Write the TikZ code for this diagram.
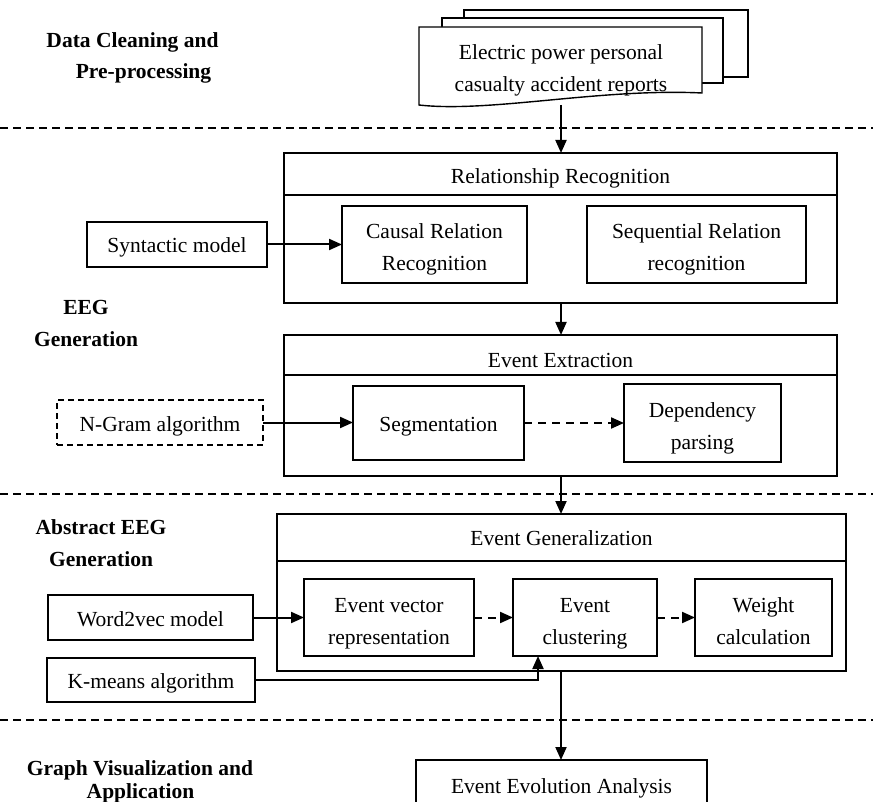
\documentclass[tikz,border=0pt]{standalone}
\usepackage{fontspec}
\setmainfont{Liberation Serif}
\usetikzlibrary{arrows.meta}
\begin{document}
\begin{tikzpicture}[x=1pt,y=-1pt,
  every node/.style={font=\fontsize{21.5}{32}\selectfont, inner sep=0pt, outer sep=0pt},
  one/.style={text height=19.5pt, text depth=2.5pt},
  two/.style={align=center, text height=55pt, text depth=2pt},
  box/.style={draw, line width=1.4pt, fill=white},
  dbox/.style={box, dash pattern=on 6pt off 4pt},
  sec/.style={font=\fontsize{21.5}{32}\selectfont\bfseries},
  flow/.style={line width=2pt, -{Triangle[length=13pt,width=11pt]}},
  dflow/.style={flow, dash pattern=on 8pt off 6pt},
  sep/.style={line width=1.3pt, dash pattern=on 8pt off 5pt},
  rule/.style={line width=1.4pt},
]
\clip (0,0) rectangle (873,802);
\fill[white] (0,0) rectangle (873,802);

% stage separators
\draw[sep] (0,128) -- (873,128);
\draw[sep] (0,494) -- (873,494);
\draw[sep] (0,720) -- (873,720);

% stage labels
\node[sec] (l1a) at (132.5,42) {Data Cleaning and};
\node[sec] (l1b) at (143.5,73) {Pre-processing};
\node[sec, align=center] (l2) at (86,323.5) {EEG\\Generation};
\node[sec, align=center] (l3) at (101,543) {Abstract EEG\\Generation};
\node[sec] (l4a) at (140,770) {Graph Visualization and};
\node[sec] (l4b) at (140.5,793) {Application};

% stacked report documents
\draw[box] (464,10) rectangle (748,77);
\draw[box] (442,18) rectangle (723,83);
\draw[box] (419,27) -- (702,27) -- (702,93)
  .. controls (600,88) and (490,113) .. (419,105) -- cycle;
\node[two] (doc) at (561,65.5) {Electric power personal\\casualty accident reports};
\coordinate (docb) at (561,105);

% relationship recognition
\node[box, minimum width=553pt, minimum height=150pt] (rel) at (560.5,228) {};
\draw[rule] ([yshift=-42pt]rel.north west) -- ([yshift=-42pt]rel.north east);
\node[one] (relt) at (560.5,175) {Relationship Recognition};
\node[box, two, minimum width=185pt, minimum height=77pt] (causal) at (434.5,244.5) {Causal Relation\\Recognition};
\node[box, two, minimum width=219pt, minimum height=77pt] (seq) at (696.5,244.5) {Sequential Relation\\recognition};
\node[box, one, minimum width=180pt, minimum height=45pt] (syn) at (177,244.5) {Syntactic model};

% event extraction
\node[box, minimum width=553pt, minimum height=141pt] (ext) at (560.5,405.5) {};
\draw[rule] ([yshift=-40pt]ext.north west) -- ([yshift=-40pt]ext.north east);
\node[one] (extt) at (560.5,359) {Event Extraction};
\node[box, one, minimum width=171pt, minimum height=74pt] (seg) at (438.5,423) {Segmentation};
\node[box, two, minimum width=157pt, minimum height=78pt] (dep) at (702.5,423) {Dependency\\parsing};
\node[dbox, one, minimum width=206pt, minimum height=45pt] (ngram) at (160,422.5) {N-Gram algorithm};

% event generalization
\node[box, minimum width=569pt, minimum height=157pt] (eg) at (561.5,592.5) {};
\draw[rule] ([yshift=-47pt]eg.north west) -- ([yshift=-47pt]eg.north east);
\node[one] (egt) at (561.5,537) {Event Generalization};
\node[box, two, minimum width=170pt, minimum height=77pt] (vec) at (389,617.5) {Event vector\\representation};
\node[box, two, minimum width=144pt, minimum height=77pt] (clu) at (585,617.5) {Event\\clustering};
\node[box, two, minimum width=137pt, minimum height=77pt] (wgt) at (763.5,617.5) {Weight\\calculation};
\node[box, one, minimum width=205pt, minimum height=45pt] (w2v) at (150.5,617.5) {Word2vec model};
\node[box, one, minimum width=208pt, minimum height=44pt] (km) at (151,680) {K-means algorithm};

% graph visualization and application
\node[box, minimum width=291pt, minimum height=70pt] (eea) at (561.5,795) {};
\node[one] (eeat) at (561.5,785) {Event Evolution Analysis};

% flow between stages
\draw[flow] (docb) -- (docb |- rel.north);
\draw[flow] (rel.south -| docb) -- (ext.north -| docb);
\draw[flow] (ext.south -| docb) -- (eg.north -| docb);
\draw[flow] (eg.south -| docb) -- (eea.north -| docb);

% flow inside stages
\draw[flow] (syn.east) -- (syn.east -| causal.west);
\draw[flow] (ngram.east) -- (ngram.east -| seg.west);
\draw[dflow] (seg.east) -- (seg.east -| dep.west);
\draw[flow] (w2v.east) -- (w2v.east -| vec.west);
\draw[dflow] (vec.east) -- (clu.west);
\draw[dflow] (clu.east) -- (wgt.west);
\draw[flow] (km.east) -| ([xshift=-47pt]clu.south);
\end{tikzpicture}
\end{document}
